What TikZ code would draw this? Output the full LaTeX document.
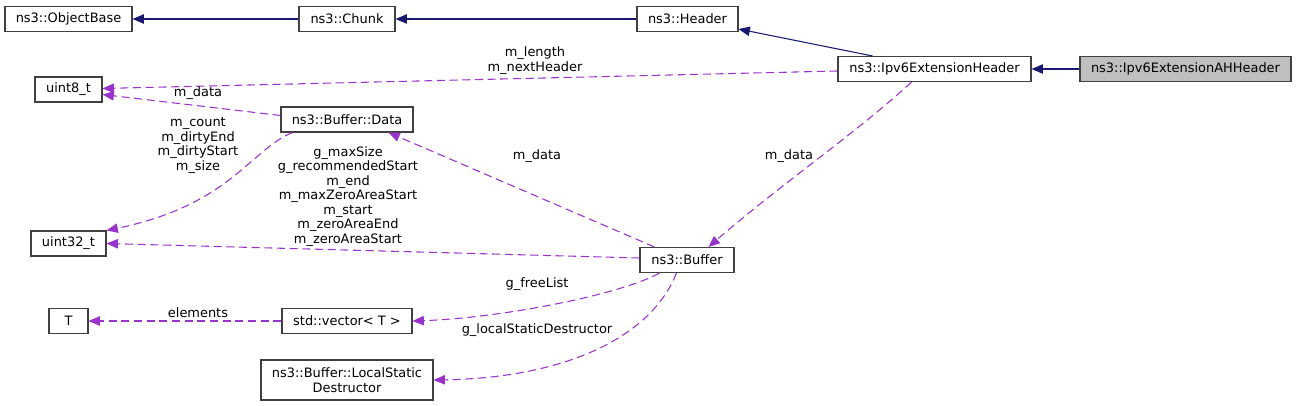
\documentclass[tikz,border=0pt]{standalone}
\usepackage{fontspec}
\setmainfont{DejaVu Sans}
\usetikzlibrary{calc,arrows.meta}
\definecolor{edgenavy}{HTML}{191970}
\definecolor{edgeorchid}{HTML}{9A32CD}

\begin{document}
\begin{tikzpicture}[x=0.75pt, y=-0.75pt,
    cls/.style={draw=black!75, line width=0.8pt, inner sep=0pt, minimum height=18.75pt, font=\fontsize{9.7}{11}\selectfont},
    inherit/.style={draw=edgenavy, line width=0.8pt, -{Triangle[length=8.5pt,width=7pt]}},
    member/.style={draw=edgeorchid, line width=0.8pt, dash pattern=on 6pt off 3.5pt, -{Triangle[length=8.5pt,width=7pt]}},
    lbl/.style={font=\fontsize{9.7}{10.9}\selectfont, align=center, inner sep=0pt}]
    %%%%% START %%%%%
    
    \useasboundingbox (0, 0) rectangle (1296, 406);
    
    \node[cls, minimum width=95.25pt] (objbase) at (68.5, 19) {ns3::ObjectBase};
    \node[cls, minimum width=72pt] (chunk) at (347, 19) {ns3::Chunk};
    \node[cls, minimum width=75.75pt] (header) at (687.5, 19) {ns3::Header};
    \node[cls, minimum width=144.75pt] (ipvext) at (934.5, 69) {ns3::Ipv6ExtensionHeader};
    \node[cls, minimum width=158.25pt, fill=black!25] (ahhdr) at (1185.5, 69) {ns3::Ipv6ExtensionAHHeader};
    
    \node[cls, minimum width=50.25pt] (uint8) at (68.5, 89.5) {uint8\_t};
    \node[cls, minimum width=99pt] (data) at (347, 119.5) {ns3::Buffer::Data};
    \node[cls, minimum width=56.25pt] (uint32) at (68.5, 243.5) {uint32\_t};
    \node[cls, minimum width=70.5pt] (buffer) at (687, 260) {ns3::Buffer};
    
    \node[cls, minimum width=29.25pt] (tnode) at (68.5, 321) {T};
    \node[cls, minimum width=97.5pt] (vec) at (347, 321) {std::vector< T >};
    \node[cls, minimum width=129pt, minimum height=30pt, align=center] (destr) at (347, 380) {ns3::Buffer::LocalStatic\\Destructor};
    
    % inheritance
    \draw[inherit] (ahhdr.west) -- (ipvext.east);
    \draw[inherit] ($(ipvext.north west)+(35, 0)$) -- ($(header.south east)+(0, -3)$);
    \draw[inherit] (header.west) -- (chunk.east);
    \draw[inherit] (chunk.west) -- (objbase.east);
    
    % members
    \draw[member] ($(ipvext.west)+(0, 2)$) -- ($(uint8.east)+(0, -1)$);
    \node[lbl] (lenlbl) at (535, 60.5) {m\_length\\m\_nextHeader};
    
    \draw[member] ($(data.west)+(0, -4)$) -- ($(uint8.east)+(0, 5)$);
    \node[lbl] (dat8lbl) at (198, 93) {m\_data};
    
    \draw[member] ($(data.south west)+(12, 0)$) .. controls (250, 150) and (230, 205) .. (uint32.north east);
    \node[lbl] (cntlbl) at (198, 145.5) {m\_count\\m\_dirtyEnd\\m\_dirtyStart\\m\_size};
    
    \draw[member] ($(buffer.west)+(0, -2)$) -- (uint32.east);
    \node[lbl] (sizelbl) at (348, 196.5) {g\_maxSize\\g\_recommendedStart\\m\_end\\m\_maxZeroAreaStart\\m\_start\\m\_zeroAreaEnd\\m\_zeroAreaStart};
    
    \draw[member] ($(buffer.north west)+(15, 0)$) -- ($(data.south east)+(-25, 0)$);
    \node[lbl] (bufdlbl) at (537, 156) {m\_data};
    
    \draw[member] ($(ipvext.south west)+(74, 0)$) .. controls (860, 130) and (780, 185) .. ($(buffer.north east)+(-26, 0)$);
    \node[lbl] (extdlbl) at (789, 156) {m\_data};
    
    \draw[member] ($(buffer.south west)+(20, 0)$) .. controls (620, 295) and (500, 318) .. (vec.east);
    \node[lbl] (freelbl) at (537, 284) {g\_freeList};
    
    \draw[member] ($(buffer.south west)+(37, 0)$) .. controls (650, 340) and (560, 378) .. (destr.east);
    \node[lbl] (destlbl) at (537, 330) {g\_localStaticDestructor};
    
    \draw[member] (vec.west) -- (tnode.east);
    \node[lbl] (elemlbl) at (198, 313) {elements};
    
    %%%%% END %%%%%
\end{tikzpicture}
\end{document}
